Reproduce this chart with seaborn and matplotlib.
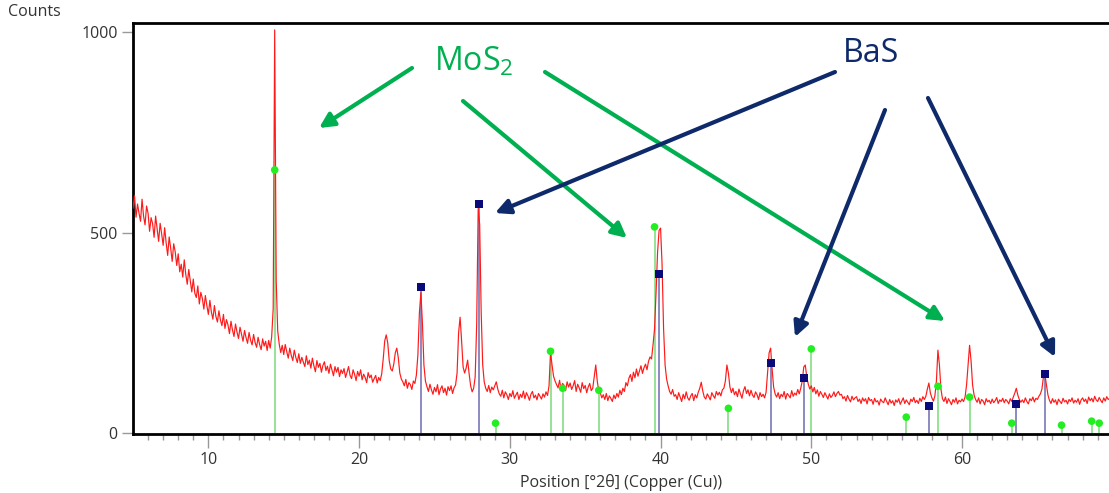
import numpy as np
import pandas as pd
import matplotlib
matplotlib.use("Agg")
import matplotlib.pyplot as plt
import seaborn as sns

# ---------------- data ----------------
two_theta_start = 5.0
two_theta_step = 0.1
counts_rows = [
    [560, 592, 538, 571, 548, 528, 583, 541, 519, 566],   # 5
    [548, 503, 537, 522, 488, 541, 509, 478, 523, 497],   # 6
    [468, 512, 474, 443, 489, 461, 428, 472, 452, 418],   # 7
    [447, 402, 421, 389, 432, 396, 371, 408, 379, 352],   # 8
    [384, 349, 338, 367, 322, 351, 336, 309, 343, 318],   # 9
    [296, 331, 302, 284, 318, 291, 277, 305, 282, 268],   # 10
    [296, 261, 283, 270, 248, 279, 257, 241, 272, 252],   # 11
    [236, 264, 247, 229, 256, 238, 224, 251, 232, 220],   # 12
    [246, 226, 214, 239, 221, 208, 235, 217, 229, 206],   # 13
    [231, 212, 240, 310, 1005, 380, 255, 222, 201, 219],  # 14
    [196, 221, 203, 187, 212, 194, 181, 207, 189, 176],   # 15
    [198, 174, 189, 177, 166, 193, 171, 182, 162, 187],   # 16
    [168, 153, 181, 164, 174, 152, 169, 178, 156, 167],   # 17
    [149, 172, 158, 143, 166, 152, 164, 141, 158, 149],   # 18
    [161, 139, 152, 166, 144, 136, 158, 147, 131, 154],   # 19
    [142, 158, 133, 147, 139, 126, 151, 138, 145, 127],   # 20
    [136, 144, 125, 139, 131, 148, 185, 230, 245, 225],   # 21
    [180, 160, 155, 172, 200, 212, 188, 150, 135, 128],   # 22
    [118, 134, 112, 126, 121, 109, 130, 124, 145, 195],   # 23
    [300, 350, 275, 170, 130, 116, 104, 122, 108, 97],    # 24
    [114, 103, 121, 96, 110, 118, 101, 112, 95, 116],     # 25
    [106, 118, 99, 113, 120, 150, 250, 289, 230, 165],    # 26
    [150, 162, 182, 148, 118, 103, 112, 140, 270, 560],   # 27
    [520, 300, 170, 128, 112, 104, 119, 101, 115, 108],   # 28
    [118, 128, 110, 98, 92, 107, 88, 103, 96, 84],        # 29
    [99, 91, 106, 87, 95, 102, 84, 97, 89, 105],          # 30
    [86, 101, 93, 82, 97, 104, 88, 95, 83, 99],           # 31
    [92, 85, 98, 90, 103, 94, 118, 202, 170, 142],        # 32
    [130, 121, 113, 132, 108, 124, 119, 106, 128, 115],   # 33
    [125, 109, 118, 131, 104, 122, 113, 102, 126, 111],   # 34
    [119, 101, 115, 124, 106, 112, 140, 170, 130, 105],   # 35
    [101, 88, 96, 84, 99, 81, 93, 87, 79, 95],            # 36
    [86, 99, 90, 107, 96, 112, 104, 126, 118, 137],       # 37
    [146, 129, 152, 138, 160, 142, 155, 168, 149, 163],   # 38
    [172, 158, 179, 190, 185, 220, 260, 350, 450, 505],   # 39
    [511, 420, 260, 170, 135, 118, 104, 97, 109, 92],     # 40
    [96, 84, 101, 90, 79, 97, 86, 103, 88, 82],           # 41
    [93, 99, 81, 96, 88, 102, 112, 127, 105, 90],         # 42
    [85, 98, 91, 83, 101, 93, 87, 104, 95, 102],          # 43
    [93, 108, 112, 130, 170, 150, 115, 101, 112, 96],     # 44
    [104, 91, 110, 98, 87, 106, 116, 99, 108, 93],        # 45
    [107, 95, 89, 103, 96, 84, 101, 91, 97, 88],          # 46
    [102, 150, 200, 212, 160, 115, 98, 90, 101, 86],      # 47
    [97, 91, 104, 85, 99, 94, 88, 106, 92, 100],          # 48
    [95, 109, 98, 112, 130, 165, 170, 140, 122, 110],     # 49
    [118, 103, 114, 98, 108, 92, 104, 97, 89, 101],       # 50
    [93, 85, 98, 89, 94, 103, 91, 99, 104, 95],           # 51
    [97, 86, 91, 80, 94, 85, 78, 92, 83, 88],             # 52
    [91, 79, 85, 74, 88, 80, 86, 73, 89, 81],             # 53
    [84, 72, 87, 78, 81, 70, 85, 79, 76, 88],             # 54
    [79, 71, 84, 75, 81, 69, 83, 77, 86, 72],             # 55
    [80, 88, 74, 83, 77, 71, 85, 79, 89, 76],             # 56
    [82, 74, 87, 79, 91, 84, 92, 110, 125, 100],          # 57
    [88, 80, 93, 130, 207, 170, 110, 86, 79, 90],         # 58
    [74, 86, 79, 71, 84, 77, 88, 73, 82, 78],             # 59
    [85, 79, 90, 120, 170, 219, 180, 120, 95, 84],        # 60
    [77, 88, 73, 84, 80, 71, 86, 78, 82, 74],             # 61
    [85, 76, 81, 89, 74, 83, 79, 87, 76, 84],             # 62
    [80, 73, 86, 79, 90, 100, 112, 95, 84, 77],           # 63
    [83, 76, 88, 79, 73, 86, 81, 90, 78, 87],             # 64
    [84, 92, 98, 110, 140, 145, 120, 95, 82, 74],         # 65
    [86, 77, 83, 71, 85, 79, 74, 87, 78, 82],             # 66
    [73, 84, 79, 88, 75, 82, 77, 86, 72, 83],             # 67
    [88, 79, 85, 74, 90, 81, 87, 78, 92, 83],             # 68
    [79, 89, 82, 76, 88, 80, 91, 84, 87],                 # 69
]

# Reference patterns (stick positions and intensities)
mos2_pos = [14.4, 29.05, 32.7, 33.5, 35.9, 39.6, 44.5, 50.0, 56.3, 58.4, 60.5, 63.3, 66.6, 68.6, 69.1]
mos2_int = [656, 25, 204, 112, 107, 514, 62, 210, 40, 117, 90, 25, 20, 30, 25]
bas_pos = [24.1, 27.95, 39.9, 47.3, 49.5, 57.8, 63.6, 65.5]
bas_int = [365, 571, 397, 175, 137, 67, 72, 147]

x_ticks = [10, 20, 30, 40, 50, 60]
y_ticks = [0, 500, 1000]
x_label = "Position [°2θ] (Copper (Cu))"
y_label = "Counts"

# ---------------- figure ----------------
sns.set_theme(style="white")
plt.rcParams["font.family"] = ["Open Sans", "DejaVu Sans"]
plt.rcParams["mathtext.fontset"] = "custom"
plt.rcParams["mathtext.rm"] = "Open Sans"

counts = np.concatenate([np.array(r, dtype=float) for r in counts_rows])
pos = np.round(two_theta_start + two_theta_step * np.arange(len(counts)), 2)
df = pd.DataFrame({"pos": pos, "counts": counts})

W, H = 1109, 493
fig = plt.figure(figsize=(W / 100, H / 100), dpi=100)
ax = fig.add_axes([133 / W, 1 - 434 / H, 1 - 133 / W, (434 - 23) / H])

# sticks
ax.vlines(mos2_pos, 0, mos2_int, color="#8fe08f", lw=1.3, zorder=2)
ax.vlines(bas_pos, 0, bas_int, color="#6b6bb0", lw=1.1, zorder=2)

sns.lineplot(data=df, x="pos", y="counts", ax=ax, color="#ff1a1a", lw=0.85,
             estimator=None, sort=True, zorder=3)

sns.scatterplot(x=mos2_pos, y=mos2_int, ax=ax, color="#22ee22", s=30,
                marker="o", edgecolor="none", zorder=4)
sns.scatterplot(x=bas_pos, y=bas_int, ax=ax, color="#0a0a78", s=34,
                marker="s", edgecolor="none", zorder=4)

ax.set_xlim(5.0, 69.75)
ax.set_ylim(-2, 1022)
ax.set_xticks(x_ticks)
ax.set_xticks(np.arange(6, 70, 1), minor=True)
ax.set_yticks(y_ticks)
ax.set_xticklabels([str(t) for t in x_ticks])
ax.set_yticklabels([str(t) for t in y_ticks])
ax.tick_params(axis="x", which="major", direction="out", length=10, width=1,
               color="#999999", labelsize=11.5, labelcolor="#333333", pad=3, bottom=True)
ax.tick_params(axis="x", which="minor", direction="out", length=4, width=1,
               color="#999999", bottom=True)
ax.tick_params(axis="y", which="major", direction="out", length=8, width=1,
               color="#999999", labelsize=11.5, labelcolor="#333333", pad=3, left=True)
ax.set_xlabel(x_label, fontsize=11.5, color="#333333", labelpad=4)
ax.set_ylabel("")
for side in ["left", "bottom", "top"]:
    ax.spines[side].set_visible(True)
    ax.spines[side].set_color("black")
    ax.spines[side].set_linewidth(2)
ax.spines["right"].set_visible(False)
ax.grid(False)

fig.text(8 / W, 1 - 12 / H, y_label, fontsize=11.5, color="#333333",
         ha="left", va="center")

# annotations
green = "#00b050"
navy = "#0e2a6b"
fig.text(474 / W, 1 - 62 / H, "MoS$_\\mathregular{2}$", fontsize=23, color=green,
         ha="center", va="center")
fig.text(871 / W, 1 - 53 / H, "BaS", fontsize=23, color=navy,
         ha="center", va="center")

def arrow(x0, y0, x1, y1, c):
    fig.add_artist(matplotlib.patches.FancyArrowPatch(
        (x0 / W, 1 - y0 / H), (x1 / W, 1 - y1 / H), transform=fig.transFigure,
        arrowstyle="-|>", mutation_scale=22, lw=3, color=c, shrinkA=0, shrinkB=0))

arrow(412, 68, 319, 128, green)
arrow(463, 101, 627, 238, green)
arrow(545, 72, 945, 321, green)
arrow(835, 72, 495, 213, navy)
arrow(885, 110, 795, 337, navy)
arrow(928, 98, 1055, 357, navy)

fig.savefig("out.png", dpi=100)
